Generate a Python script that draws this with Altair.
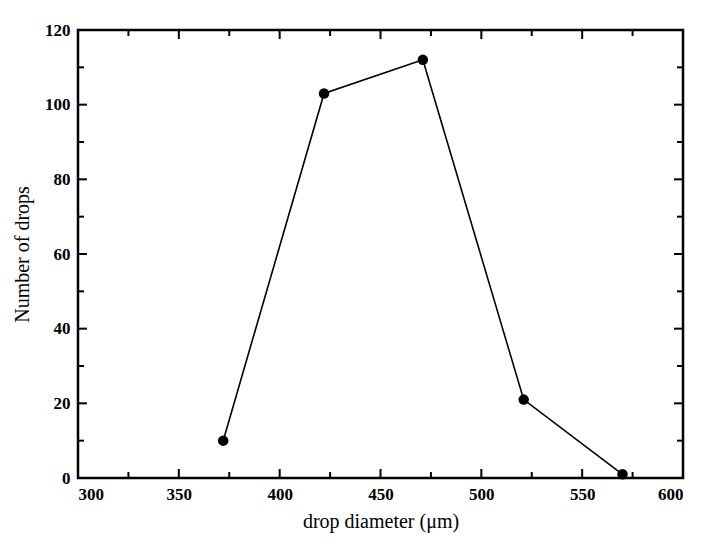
import altair as alt
import pandas as pd

# data
diameter = [372, 422, 471, 521, 570]
drops = [10, 103, 112, 21, 1]

x_major = [300, 350, 400, 450, 500, 550, 600]
x_minor = [325, 375, 425, 475, 525, 575]
y_major = [0, 20, 40, 60, 80, 100, 120]
y_minor = [10, 30, 50, 70, 90, 110]

W, H = 605, 448
FONT = "Liberation Serif"

df = pd.DataFrame({"d": diameter, "n": drops})
xmaj = pd.DataFrame({"v": x_major})
xmin = pd.DataFrame({"v": x_minor})
ymaj = pd.DataFrame({"v": y_major})
ymin = pd.DataFrame({"v": y_minor})

xs = alt.Scale(domain=[300, 600], nice=False, zero=False)
ys = alt.Scale(domain=[0, 120], nice=False)

xaxis = alt.Axis(values=x_major, title="drop diameter (μm)", ticks=False, domain=False,
                 grid=False, labelFont=FONT, labelFontSize=17, labelFontWeight="bold",
                 labelColor="black", labelPadding=8, titleFont=FONT, titleFontSize=20,
                 titleFontWeight="normal", titleColor="black", titlePadding=9)
yaxis = alt.Axis(values=y_major, title="Number of drops", ticks=False, domain=False,
                 grid=False, labelFont=FONT, labelFontSize=17, labelFontWeight="bold",
                 labelColor="black", labelPadding=8, titleFont=FONT, titleFontSize=20,
                 titleFontWeight="normal", titleColor="black", titlePadding=12)

base = alt.Chart(df).encode(
    x=alt.X("d:Q", scale=xs, axis=xaxis),
    y=alt.Y("n:Q", scale=ys, axis=yaxis),
)
line = base.mark_line(color="black", strokeWidth=1.6)
pts = base.mark_circle(color="black", opacity=1, size=110)

def xticks(data, size, ypix):
    return alt.Chart(data).mark_tick(orient="vertical", clip=True, size=size,
                                     thickness=2, color="black", opacity=1).encode(
        x=alt.X("v:Q", scale=xs), y=alt.value(ypix))

def yticks(data, size, xpix):
    return alt.Chart(data).mark_tick(orient="horizontal", clip=True, size=size,
                                     thickness=2, color="black", opacity=1).encode(
        y=alt.Y("v:Q", scale=ys), x=alt.value(xpix))

chart = alt.layer(
    xticks(xmaj, 18, H), xticks(xmin, 12, H), xticks(xmaj, 18, 0), xticks(xmin, 12, 0),
    yticks(ymaj, 18, 0), yticks(ymin, 12, 0), yticks(ymaj, 18, W), yticks(ymin, 12, W),
    line, pts,
).properties(
    width=W, height=H,
    background="white",
    autosize=alt.AutoSizeParams(type="none"),
    padding={"left": 70, "top": 22, "right": 12, "bottom": 56},
).configure_view(
    stroke="black", strokeWidth=2.5, strokeOpacity=1
)

chart.save("out.html", embed_options={"renderer": "svg", "actions": False})
